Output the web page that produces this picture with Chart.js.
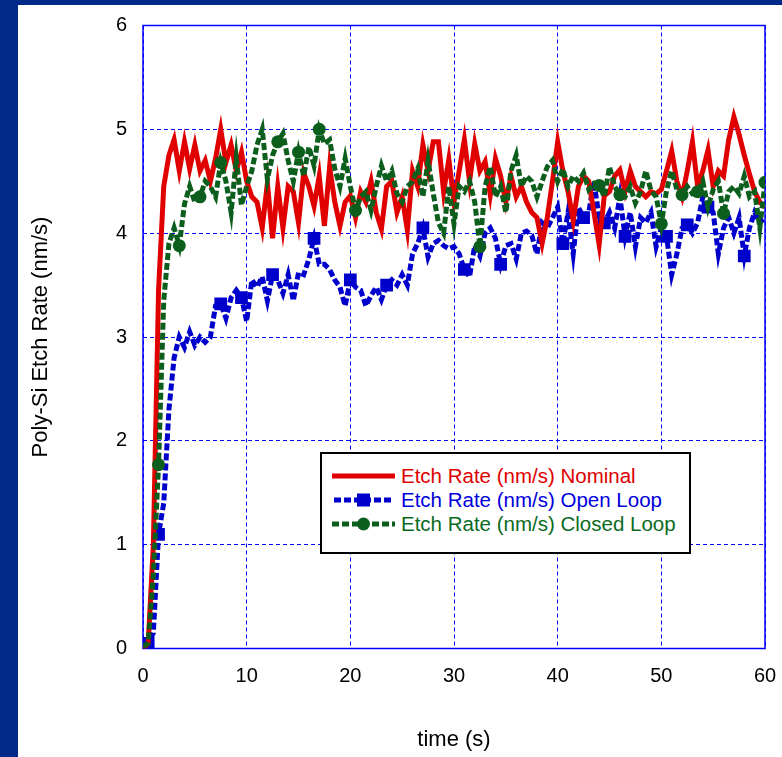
<!DOCTYPE html>
<html>
<head>
<meta charset="utf-8">
<script src="https://cdn.jsdelivr.net/npm/chart.js@4/dist/chart.umd.min.js"></script>
<style>
  html, body { margin: 0; padding: 0; background: #00298a; }
  #wrap { position: relative; width: 782px; height: 757px; }
  #c { position: absolute; left: 0; top: 0; }
  #legend {
    position: absolute; left: 320px; top: 452px; width: 367px; height: 88px;
    border: 2px solid #000; background: #fff; padding-top: 10px; box-sizing: content-box;
    font-family: "Liberation Sans", Arial, sans-serif; font-size: 20.5px;
  }
  #legend .row { height: 24px; line-height: 24px; display: flex; align-items: center; }
  #legend svg { margin-left: 10px; margin-right: 6px; flex: none; }
</style>
</head>
<body>
<div id="wrap">
  <canvas id="c" width="782" height="757"></canvas>
  <div id="legend"></div>
</div>
<script>
'use strict';

/* ── DATOS ── */
var tiempo = [
  0, 0.5, 1, 1.5, 2, 2.5, 3, 3.5, 4, 4.5,
  5, 5.5, 6, 6.5, 7, 7.5, 8, 8.5, 9, 9.5,
  10, 10.5, 11, 11.5, 12, 12.5, 13, 13.5, 14, 14.5,
  15, 15.5, 16, 16.5, 17, 17.5, 18, 18.5, 19, 19.5,
  20, 20.5, 21, 21.5, 22, 22.5, 23, 23.5, 24, 24.5,
  25, 25.5, 26, 26.5, 27, 27.5, 28, 28.5, 29, 29.5,
  30, 30.5, 31, 31.5, 32, 32.5, 33, 33.5, 34, 34.5,
  35, 35.5, 36, 36.5, 37, 37.5, 38, 38.5, 39, 39.5,
  40, 40.5, 41, 41.5, 42, 42.5, 43, 43.5, 44, 44.5,
  45, 45.5, 46, 46.5, 47, 47.5, 48, 48.5, 49, 49.5,
  50, 50.5, 51, 51.5, 52, 52.5, 53, 53.5, 54, 54.5,
  55, 55.5, 56, 56.5, 57, 57.5, 58, 58.5, 59, 59.5,
  60
];

var nominal = [
  0, 0.05, 1.0, 3.45, 4.45, 4.75, 4.9, 4.6, 4.88, 4.62,
  4.85, 4.6, 4.7, 4.5, 4.72, 5.0, 4.68, 4.85, 4.6, 4.78,
  4.5, 4.35, 4.3, 4.05, 4.48, 3.95, 4.45, 4.05, 4.45, 4.4,
  4.1, 4.58, 4.45, 4.26, 4.55, 4.07, 4.64, 4.3, 4.07, 4.3,
  4.36, 4.15, 4.4, 4.3, 4.5, 4.2, 4.04, 4.45, 4.5, 4.2,
  4.35, 4.03, 4.6, 4.45, 4.85, 4.6, 4.88, 4.88, 4.4, 4.71,
  4.3, 4.6, 4.9, 4.5, 4.86, 4.6, 4.69, 4.37, 4.72, 4.55,
  4.3, 4.55, 4.35, 4.45, 4.3, 4.2, 4.15, 3.9, 4.15, 4.5,
  4.88, 4.6, 4.4, 4.12, 4.45, 4.55, 4.5, 4.2, 3.89, 4.36,
  4.4, 4.55, 4.61, 4.4, 4.6, 4.45, 4.4, 4.35, 4.4, 4.38,
  4.42, 4.6, 4.79, 4.5, 4.35, 4.6, 4.88, 4.45, 4.6, 4.8,
  4.45, 4.6, 4.55, 4.9, 5.12, 4.95, 4.75, 4.57, 4.4, 4.3,
  4.25
];

var lazoAbierto = [
  0.05, 0.05, 0.15, 1.1, 1.4, 2.3, 2.8, 3.0, 2.9, 3.05,
  2.92, 3.0, 2.95, 3.0, 3.3, 3.32, 3.18, 3.38, 3.45, 3.38,
  3.15, 3.55, 3.48, 3.58, 3.35, 3.6, 3.55, 3.42, 3.6, 3.35,
  3.62, 3.6, 3.75, 3.95, 3.7, 3.7, 3.65, 3.55, 3.48, 3.3,
  3.55, 3.48, 3.45, 3.3, 3.4, 3.48, 3.36, 3.5, 3.55, 3.5,
  3.6, 3.5, 3.8, 3.9, 4.05, 3.77, 3.9, 3.93, 3.88, 3.85,
  3.87, 3.8, 3.65, 3.58, 3.88, 3.78, 4.0, 4.05, 3.95, 3.7,
  3.88, 3.9, 3.75, 4.0, 4.02, 3.98, 3.8, 4.1, 4.05, 4.15,
  4.25, 3.9, 4.2, 3.8, 4.25, 4.15, 4.2, 4.5, 4.15, 4.1,
  4.2, 4.05, 4.35, 3.97, 4.2, 3.87, 4.15, 4.1, 4.2, 3.87,
  4.05, 3.97, 3.6, 3.8, 4.05, 4.08, 4.0, 4.1, 4.35, 4.25,
  4.2, 3.8, 4.05, 4.15, 4.0, 4.15, 3.78, 4.05, 4.2, 4.1,
  4.15
];

var lazoCerrado = [
  0.02, 0.05, 0.7, 1.77, 3.35, 3.9, 4.05, 3.88, 4.28, 4.45,
  4.3, 4.35, 4.5, 4.45, 4.35, 4.68, 4.5, 4.2, 4.72, 4.27,
  4.45, 4.6, 4.85, 5.0, 4.52, 4.75, 4.88, 4.96, 4.7, 4.5,
  4.78, 4.55, 4.83, 4.65, 5.0, 4.86, 4.9, 4.62, 4.45, 4.72,
  4.45, 4.22, 4.35, 4.4, 4.22, 4.45, 4.65, 4.5, 4.6, 4.38,
  4.3, 4.45, 4.5, 4.62, 4.35, 4.7, 4.38, 4.1, 4.0, 4.45,
  4.09, 4.45, 4.4, 4.5, 4.3, 3.87, 4.45, 4.64, 4.35, 4.45,
  4.2, 4.6, 4.75, 4.45, 4.55, 4.5, 4.35, 4.5, 4.64, 4.7,
  4.5, 4.62, 4.45, 4.55, 4.5, 4.58, 4.42, 4.48, 4.46, 4.35,
  4.64, 4.45, 4.37, 4.35, 4.45, 4.29, 4.4, 4.6, 4.41, 4.35,
  4.09, 4.41, 4.6, 4.42, 4.37, 4.45, 4.38, 4.4, 4.5, 4.25,
  4.42, 4.5, 4.19, 4.4, 4.45, 4.38, 4.55, 4.35, 4.4, 4.05,
  4.49
];

/* muestras que llevan marcador */
var marcasAbierto = [1, 3, 15, 19, 25, 33, 40, 47, 54, 62, 69, 81, 85, 89, 93, 101, 105, 109, 116];
var marcasCerrado = [3, 7, 11, 15, 26, 30, 34, 41, 65, 88, 92, 100, 104, 107, 112, 120];

var ticksX = [0, 10, 20, 30, 40, 50, 60];
var ticksY = [0, 1, 2, 3, 4, 5, 6];

var nombres = ['Etch Rate (nm/s) Nominal', 'Etch Rate (nm/s) Open Loop', 'Etch Rate (nm/s) Closed Loop'];

/* ── ESTILO ── */
var AZUL_MARCO = '#00298a';
var ROJO  = '#e00000';
var AZUL  = '#0000cc';
var VERDE = '#0b5e1c';
var REJILLA = '#0000ff';
var FUENTE = '"Liberation Sans", Arial, sans-serif';

function pares(ys){
  return ys.map(function(v, i){ return { x: tiempo[i], y: v }; });
}

function radioMarca(lista, r){
  return function(c){ return lista.indexOf(c.dataIndex) >= 0 ? r : 0; };
}

/* fondo con marco azul y recuadro del área de trazado */
var marco = {
  id: 'marco',
  beforeDraw: function(chart){
    var ctx = chart.ctx;
    ctx.save();
    ctx.fillStyle = AZUL_MARCO;
    ctx.fillRect(0, 0, chart.width, chart.height);
    ctx.fillStyle = '#ffffff';
    ctx.fillRect(18, 5, chart.width - 18, chart.height - 5);
    ctx.restore();
  },
  beforeDatasetsDraw: function(chart){
    var a = chart.chartArea, ctx = chart.ctx;
    ctx.save();
    ctx.strokeStyle = REJILLA;
    ctx.lineWidth = 1.5;
    ctx.strokeRect(a.left, a.top, a.right - a.left, a.bottom - a.top);
    ctx.restore();
  }
};

new Chart(document.getElementById('c'), {
  type: 'line',
  data: {
    datasets: [
      {
        label: nombres[2], data: pares(lazoCerrado), order: 0,
        borderColor: VERDE, backgroundColor: VERDE, borderWidth: 5, borderDash: [7, 3],
        pointStyle: 'circle', pointRadius: radioMarca(marcasCerrado, 6.5), pointBorderWidth: 0,
        tension: 0, fill: false
      },
      {
        label: nombres[0], data: pares(nominal), order: 1,
        borderColor: ROJO, backgroundColor: ROJO, borderWidth: 5,
        pointRadius: 0, tension: 0, fill: false
      },
      {
        label: nombres[1], data: pares(lazoAbierto), order: 2,
        borderColor: AZUL, backgroundColor: AZUL, borderWidth: 5, borderDash: [7, 3],
        pointStyle: 'rect', pointRadius: radioMarca(marcasAbierto, 9), pointBorderWidth: 0,
        tension: 0, fill: false
      }
    ]
  },
  options: {
    responsive: false,
    devicePixelRatio: 1,
    animation: false,
    events: [],
    layout: { padding: { left: 0, right: 17, top: 25.5, bottom: 0 } },
    plugins: { legend: { display: false }, tooltip: { enabled: false } },
    scales: {
      x: {
        type: 'linear', min: 0, max: 60,
        afterBuildTicks: function(s){ s.ticks = ticksX.map(function(v){ return { value: v }; }); },
        afterFit: function(s){ s.height = 108.5; s.paddingLeft = 0; s.paddingRight = 0; },
        grid: { color: REJILLA, lineWidth: 1, drawTicks: false },
        border: { display: false, dash: [4, 3] },
        ticks: { color: '#000', padding: 16, maxRotation: 0, font: { family: FUENTE, size: 20 } },
        title: {
          display: true, text: 'time (s)', color: '#000',
          font: { family: FUENTE, size: 22 }, padding: { top: 0, bottom: 3.8 }
        }
      },
      y: {
        type: 'linear', min: 0, max: 6,
        afterBuildTicks: function(s){ s.ticks = ticksY.map(function(v){ return { value: v }; }); },
        afterFit: function(s){ s.width = 143; s.paddingTop = 0; s.paddingBottom = 0; },
        grid: { color: REJILLA, lineWidth: 1, drawTicks: false },
        border: { display: false, dash: [4, 3] },
        ticks: { color: '#000', padding: 16, font: { family: FUENTE, size: 20 } },
        title: {
          display: true, text: 'Poly-Si Etch Rate (nm/s)', color: '#000',
          font: { family: FUENTE, size: 22 }, padding: { top: 27.8, bottom: 0 }
        }
      }
    }
  },
  plugins: [marco]
});

/* ── LEYENDA ── */
var muestras = [
  '<line x1="0" y1="12" x2="63" y2="12" stroke="' + ROJO + '" stroke-width="5"/>',
  '<line x1="2" y1="12" x2="61" y2="12" stroke="' + AZUL + '" stroke-width="5" stroke-dasharray="7 3"/>' +
    '<rect x="25" y="5.5" width="13" height="13" fill="' + AZUL + '"/>',
  '<line x1="0" y1="12" x2="63" y2="12" stroke="' + VERDE + '" stroke-width="5" stroke-dasharray="7 3"/>' +
    '<circle cx="31.5" cy="12" r="6.5" fill="' + VERDE + '"/>'
];
var coloresTexto = [ROJO, '#0000dd', '#0a6a1e'];
var leyenda = document.getElementById('legend');
nombres.forEach(function(n, i){
  var fila = document.createElement('div');
  fila.className = 'row';
  fila.innerHTML = '<svg width="63" height="24">' + muestras[i] + '</svg>' +
    '<span style="color:' + coloresTexto[i] + '">' + n + '</span>';
  leyenda.appendChild(fila);
});
</script>
</body>
</html>
